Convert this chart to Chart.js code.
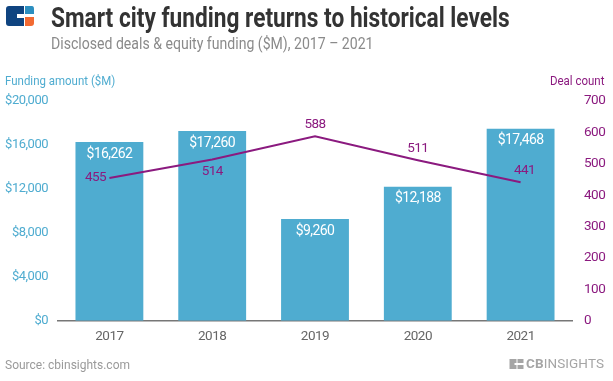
<!DOCTYPE html>
<html>
<head>
<meta charset="utf-8">
<title>Smart city funding</title>
<script src="https://cdn.jsdelivr.net/npm/chart.js@4"></script>
<style>
  html, body { margin: 0; padding: 0; background: #fff; }
  #wrap { position: relative; width: 613px; height: 381px; overflow: hidden; font-family: Roboto, sans-serif; }
  #wrap canvas { position: absolute; left: 0; top: 0; }
  .txt { position: absolute; white-space: nowrap; transform-origin: left top; }
  #title { left: 51px; top: 2px; font-size: 27px; font-weight: 700; color: #333; transform: scaleX(0.84); }
  #subtitle { left: 51px; top: 34px; font-size: 16px; color: #8a8a8a; transform: scaleX(0.88); }
  #leftTitle { left: 5px; top: 72px; font-size: 13.5px; color: #4facd0; transform: scaleX(0.85); }
  #rightTitle { left: 550px; top: 72px; font-size: 13.5px; color: #8b1a7f; transform: scaleX(0.85); }
  #source { left: 5px; top: 358px; font-size: 12px; color: #9a9a9a; }
  #brand { left: 526px; top: 355px; font-size: 13.5px; color: #a5a5a5; letter-spacing: 0.1px; }
  #brand b { font-weight: 700; }
  #logo { position: absolute; left: 6px; top: 6px; }
  #logo2 { position: absolute; left: 509px; top: 359px; }
</style>
</head>
<body>
<div id="wrap">
  <canvas id="chart" width="613" height="381"></canvas>
  <svg id="logo" width="29" height="20" viewBox="0 0 29 20">
    <path d="M3 0H18V8H11V12H18V20H3Q0 20 0 17V3Q0 0 3 0Z" fill="#0f4480"/>
    <path d="M19 0H26Q28 0 28 3V8H19Z" fill="#2c8fc0"/>
    <path d="M19 11H28V17Q28 20 25 20H19Z" fill="#f26a32"/>
  </svg>
  <div class="txt" id="title">Smart city funding returns to historical levels</div>
  <div class="txt" id="subtitle">Disclosed deals &amp; equity funding ($M), 2017 – 2021</div>
  <div class="txt" id="leftTitle">Funding amount ($M)</div>
  <div class="txt" id="rightTitle">Deal count</div>
  <div class="txt" id="source">Source: cbinsights.com</div>
  <svg id="logo2" width="15" height="10" viewBox="0 0 14 10">
    <path d="M0 0H7V4H5V6H7V10H0Z M8 0H14V4H8Z M8 6H14V10H8Z" fill="#a5a5a5"/>
  </svg>
  <div class="txt" id="brand"><b>CB</b>INSIGHTS</div>
</div>
<script>
const years = ["2017", "2018", "2019", "2020", "2021"];
const funding = [16262, 17260, 9260, 12188, 17468];
const deals = [455, 514, 588, 511, 441];
const dealLabelSpots = ["left", "below", "above", "above", "aboveRight"];

const blue = "#4facd0";
const purple = "#8b1a7f";

// value labels are drawn on top of the bars and the line
const valueLabels = {
  id: "valueLabels",
  beforeDraw(chart) {
    // narrows the tick text, Roboto Condensed is not installed
    chart.ctx.letterSpacing = "-0.5px";
  },
  afterDatasetsDraw(chart) {
    const ctx = chart.ctx;
    const barMeta = chart.getDatasetMeta(1);
    const lineMeta = chart.getDatasetMeta(0);
    ctx.save();
    ctx.textAlign = "center";
    ctx.textBaseline = "middle";
    ctx.letterSpacing = "-0.6px";
    ctx.font = "14px Roboto";
    ctx.fillStyle = "#fff";
    barMeta.data.forEach((bar, i) => {
      ctx.fillText("$" + funding[i].toLocaleString("en-US"), bar.x, bar.y + 12);
    });
    ctx.font = "13.5px Roboto";
    ctx.fillStyle = purple;
    lineMeta.data.forEach((pt, i) => {
      const spot = dealLabelSpots[i];
      let dx = 0;
      let dy = 0;
      if (spot == "left") dx = -14;
      if (spot == "above") dy = -12;
      if (spot == "below") dy = 12;
      if (spot == "aboveRight") { dx = 4; dy = -12; }
      ctx.fillText(deals[i], pt.x + dx, pt.y + dy);
    });
    ctx.restore();
  }
};

new Chart(document.getElementById("chart"), {
  data: {
    labels: years,
    datasets: [
      {
        type: "line",
        data: deals,
        yAxisID: "yRight",
        borderColor: purple,
        borderWidth: 2,
        pointRadius: 0,
        tension: 0,
        order: 0
      },
      {
        type: "bar",
        data: funding,
        yAxisID: "yLeft",
        backgroundColor: blue,
        barPercentage: 0.66,
        categoryPercentage: 1,
        order: 1
      }
    ]
  },
  options: {
    responsive: false,
    animation: false,
    layout: { padding: { top: 101, bottom: 28, left: 0, right: 0 } },
    plugins: { legend: { display: false }, tooltip: { enabled: false } },
    scales: {
      x: {
        grid: { display: false, drawTicks: false },
        border: { color: "#777", width: 1.5 },
        ticks: { color: "#666", font: { family: "Roboto", size: 13.5 }, padding: 8, maxRotation: 0 }
      },
      yLeft: {
        position: "left",
        min: 0,
        max: 20000,
        afterFit(s) { s.width = 58; },
        grid: { display: false, drawTicks: false },
        border: { display: false },
        ticks: {
          stepSize: 4000,
          color: blue,
          font: { family: "Roboto", size: 13 },
          padding: 10,
          callback: v => "$" + v.toLocaleString("en-US")
        }
      },
      yRight: {
        position: "right",
        min: 0,
        max: 700,
        afterFit(s) { s.width = 41; },
        grid: { display: false, drawTicks: false },
        border: { display: false },
        ticks: {
          stepSize: 100,
          color: purple,
          font: { family: "Roboto", size: 13.5 },
          padding: 12
        }
      }
    }
  },
  plugins: [valueLabels]
});
</script>
</body>
</html>
